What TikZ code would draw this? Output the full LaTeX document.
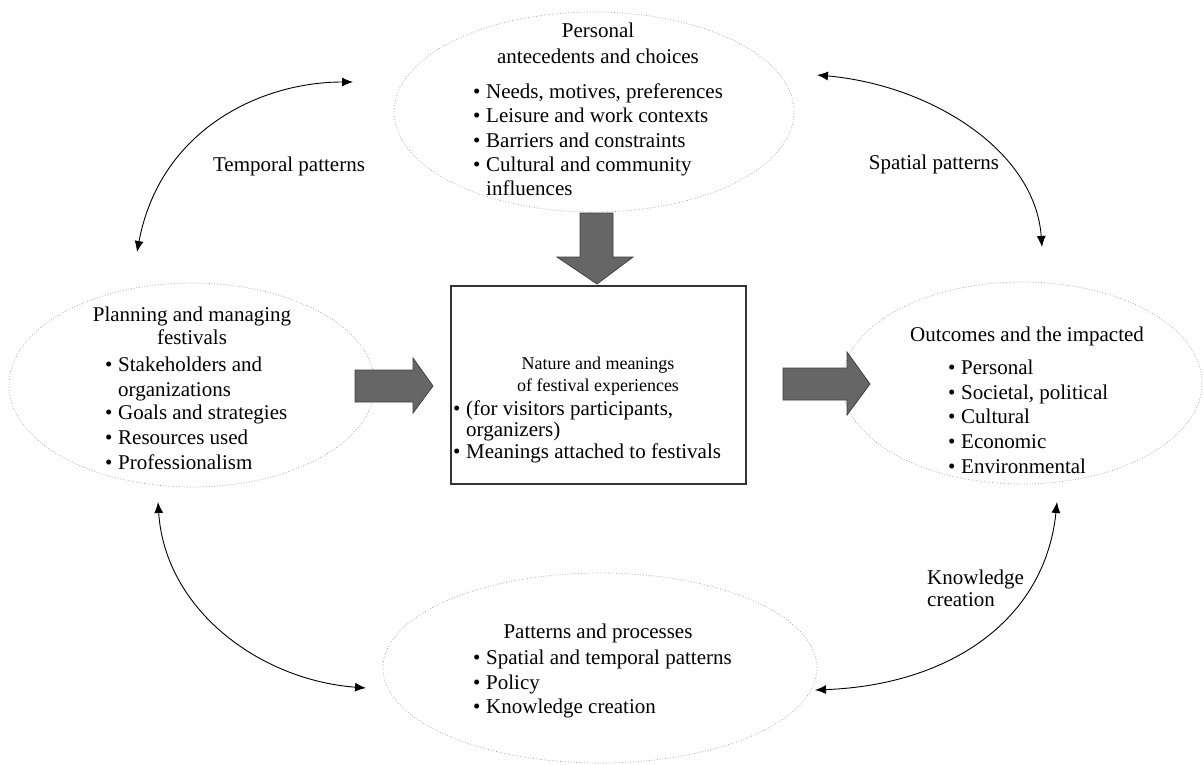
\documentclass[tikz,border=0pt]{standalone}
\usepackage{fontspec}
\setmainfont{Liberation Serif}
\usetikzlibrary{arrows.meta,shapes.geometric}
\newcommand{\bitem}{\makebox[13pt][l]{•}}
\begin{document}
\begin{tikzpicture}[x=1pt,y=-1pt,
  oval/.style={ellipse,draw=black!40,dotted,line width=0.7pt,inner sep=0pt},
  txt/.style={inner sep=0pt,anchor=base,font=\fontsize{21}{24}\selectfont},
  btxt/.style={inner sep=0pt,anchor=base west,font=\fontsize{21}{24}\selectfont},
  stxt/.style={inner sep=0pt,anchor=base,font=\fontsize{18}{21}\selectfont},
  conn/.style={{Latex[length=11pt,width=9pt]}-{Latex[length=11pt,width=9pt]},line width=0.9pt,black},
  blockarrow/.style={fill=black!60,draw=black!75,line width=0.8pt},
  frame/.style={draw=black!80,line width=1.2pt}]
\useasboundingbox (0,0) rectangle (1204,765);
\fill[white] (0,0) rectangle (1204,765);

% ellipses and box
\node[oval,minimum width=400pt,minimum height=200pt] (pers) at (594,112) {};
\node[oval,minimum width=366pt,minimum height=204pt] (plan) at (192,385) {};
\node[oval,minimum width=360pt,minimum height=202pt] (outc) at (1022,383) {};
\node[oval,minimum width=434pt,minimum height=190pt] (patt) at (600,668) {};
\node[frame,minimum width=295pt,minimum height=198pt,inner sep=0pt] (box) at (598.5,385) {};

% top ellipse text
\node[txt] (p1) at (598,38) {Personal};
\node[txt] (p2) at (598,64) {antecedents and choices};
\node[btxt] (p3) at (473,99) {\bitem Needs, motives, preferences};
\node[btxt] (p4) at (473,123) {\bitem Leisure and work contexts};
\node[btxt] (p5) at (473,147) {\bitem Barriers and constraints};
\node[btxt] (p6) at (473,171) {\bitem Cultural and community};
\node[btxt] (p7) at (486,195) {influences};

% left ellipse text
\node[txt] (l1) at (192,321) {Planning and managing};
\node[txt] (l2) at (192,344) {festivals};
\node[btxt] (l3) at (105,371) {\bitem Stakeholders and};
\node[btxt] (l4) at (118,396) {organizations};
\node[btxt] (l5) at (105,419) {\bitem Goals and strategies};
\node[btxt] (l6) at (105,444) {\bitem Resources used};
\node[btxt] (l7) at (105,469) {\bitem Professionalism};

% right ellipse text
\node[txt] (r1) at (1027,341) {Outcomes and the impacted};
\node[btxt] (r2) at (948,374) {\bitem Personal};
\node[btxt] (r3) at (948,399) {\bitem Societal, political};
\node[btxt] (r4) at (948,423) {\bitem Cultural};
\node[btxt] (r5) at (948,448) {\bitem Economic};
\node[btxt] (r6) at (948,473) {\bitem Environmental};

% box text
\node[stxt] (c1) at (598,369) {Nature and meanings};
\node[stxt] (c2) at (598,391) {of festival experiences};
\node[btxt] (c3) at (453,415) {\bitem (for visitors participants,};
\node[btxt] (c4) at (466,436) {organizers)};
\node[btxt] (c5) at (453,458) {\bitem Meanings attached to festivals};

% bottom ellipse text
\node[txt] (b1) at (598,638) {Patterns and processes};
\node[btxt] (b2) at (473,664) {\bitem Spatial and temporal patterns};
\node[btxt] (b3) at (473,689) {\bitem Policy};
\node[btxt] (b4) at (473,713) {\bitem Knowledge creation};

% labels
\node[txt] (tp) at (289,171) {Temporal patterns};
\node[txt] (sp) at (934,169) {Spatial patterns};
\node[btxt] (kc1) at (927,584) {Knowledge};
\node[btxt] (kc2) at (927,606) {creation};

% block arrows
\path[blockarrow] (580,213) -- (613,213) -- (613,257) -- (633,257) -- (597,284) -- (557,257) -- (580,257) -- cycle;
\path[blockarrow] (355,370) -- (413,370) -- (413,358) -- (433,386) -- (413,413) -- (413,402) -- (355,402) -- cycle;
\path[blockarrow] (783,368) -- (847,368) -- (847,352) -- (870,384) -- (847,415) -- (847,400) -- (783,400) -- cycle;

% curved double arrows
\coordinate (ta) at (137,252); \coordinate (tb) at (353,82);
\coordinate (sa) at (817,75);  \coordinate (sb) at (1042,247);
\coordinate (la) at (158,502); \coordinate (lb) at (366,688);
\coordinate (ra) at (1057,502); \coordinate (rb) at (815,690);
\draw[conn] (ta) .. controls (160,130) and (260,82) .. (tb);
\draw[conn] (sa) .. controls (930,85) and (1035,150) .. (sb);
\draw[conn] (la) .. controls (165,610) and (260,680) .. (lb);
\draw[conn] (ra) .. controls (1045,620) and (950,685) .. (rb);
\end{tikzpicture}
\end{document}
